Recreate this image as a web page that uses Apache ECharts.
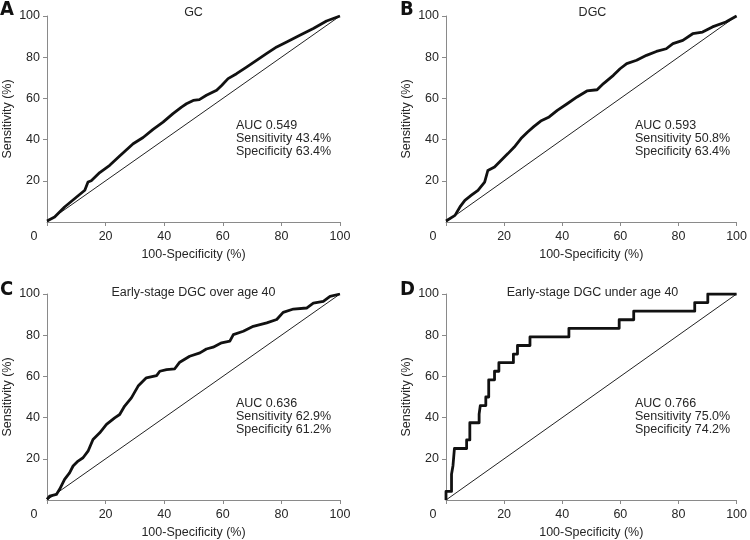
<!DOCTYPE html>
<html>
<head>
<meta charset="utf-8">
<script src="https://cdn.jsdelivr.net/npm/echarts@6/dist/echarts.min.js"></script>
<style>
html,body{margin:0;padding:0;background:#fff;}
#chart{width:750px;height:540px;}
</style>
</head>
<body>
<div id="chart"></div>
<script>
// ---- Data ----
var panelLetters = ['A', 'B', 'C', 'D'];
var panelTitles = ['GC', 'DGC', 'Early-stage DGC over age 40', 'Early-stage DGC under age 40'];
var statsA = ['AUC 0.549', 'Sensitivity 43.4%', 'Specificity 63.4%'];
var statsB = ['AUC 0.593', 'Sensitivity 50.8%', 'Specificity 63.4%'];
var statsC = ['AUC 0.636', 'Sensitivity 62.9%', 'Specificity 61.2%'];
var statsD = ['AUC 0.766', 'Sensitivity 75.0%', 'Specificity 74.2%'];
var axisTicks = [0, 20, 40, 60, 80, 100];
var xName = '100-Specificity (%)';
var yName = 'Sensitivity (%)';

var diagX = [0, 100];
var diagY = [0, 100];

var fprA = [0, 2.6, 6, 10, 12.9, 14, 15.1, 18, 21.4, 24.8, 29.4, 32.8, 36.2, 39.6, 43, 45.9, 47.6, 49.9, 52, 54.4, 57.9, 59.6, 61.8, 64.7, 68.1, 71.5, 74.9, 78.4, 81.8, 86.3, 90.9, 95.4, 100];
var tprA = [0.5, 2.4, 7.3, 12, 15.4, 19.4, 20, 24, 27.5, 32, 38, 41, 45, 48.5, 52.6, 55.8, 57.4, 59, 59.4, 61.5, 64, 66.3, 69.6, 72, 75.2, 78.5, 81.7, 85, 87.4, 90.6, 93.9, 97.6, 100];

var fprB = [0, 3.1, 4.8, 6.5, 8.75, 11, 13.3, 14.4, 16.7, 19, 21.3, 23.5, 25.8, 28.1, 30.3, 32.6, 35.5, 38.3, 41.7, 45.1, 48.5, 52, 54.2, 57.6, 59.9, 62.2, 65.6, 69, 72.4, 75.8, 78.1, 81.5, 84.9, 88.3, 91.7, 96.3, 100];
var tprB = [0.5, 3.2, 7.3, 10.5, 13, 15.4, 19.4, 25, 26.7, 30, 33.2, 36.4, 40.5, 43.7, 46.4, 49, 51, 54.2, 57.4, 60.7, 63.6, 64.2, 67.2, 71.2, 74.4, 76.9, 78.5, 80.9, 82.8, 84.1, 86.6, 88.2, 91.4, 92.2, 94.7, 97.1, 100];

var fprC = [0, 0.9, 3.2, 4.3, 6, 7.7, 8.9, 10.6, 12.3, 14, 15.7, 18, 20.3, 23.1, 24.8, 26.5, 28.8, 31.1, 33.9, 37.4, 38.5, 40.8, 43.6, 45.3, 48.7, 52.2, 54.4, 56.7, 59.6, 62.4, 63.6, 67, 70.4, 75, 78.4, 80.6, 84.1, 88.6, 90.9, 94.3, 96.6, 100];
var tprC = [0.3, 1.9, 2.7, 5.2, 10, 13.2, 16.5, 18.9, 20.5, 23.7, 29.4, 32.6, 36.7, 39.9, 41.5, 45.6, 49.6, 55.3, 59.3, 60.4, 62.5, 63.3, 63.7, 66.9, 69.8, 71.4, 73.3, 74.2, 76.3, 77.1, 80.3, 81.9, 84.3, 86, 87.6, 91.1, 92.7, 93.2, 95.6, 96.4, 98.9, 100];

var fprD = [0, 0, 1.9, 1.9, 2.4, 2.4, 2.9, 2.9, 7.1, 7.1, 8.2, 8.2, 11.4, 11.4, 11.8, 11.8, 13.7, 13.7, 14.7, 14.7, 16.7, 16.7, 18.2, 18.2, 23.2, 23.2, 24.6, 24.6, 28.9, 28.9, 42.3, 42.3, 59.6, 59.6, 64.6, 64.6, 85.6, 85.6, 90.1, 90.1, 100];
var tprD = [0, 4.17, 4.17, 12.5, 12.5, 16.67, 16.67, 25, 25, 29.17, 29.17, 37.5, 37.5, 41.67, 41.67, 45.83, 45.83, 50, 50, 58.33, 58.33, 62.5, 62.5, 66.67, 66.67, 70.83, 70.83, 75, 75, 79.17, 79.17, 83.33, 83.33, 87.5, 87.5, 91.67, 91.67, 95.83, 95.83, 100, 100];

// ---- Build chart ----
function pairs(xs, ys) { return xs.map(function (x, i) { return [x, ys[i]]; }); }

var FONT = "'Liberation Sans', Arial, sans-serif";
var TXT = '#262626';
var AX = '#8a8a8a';

var grids = [
  { left: 47, top: 16, width: 293, height: 206 },
  { left: 446, top: 16, width: 293, height: 206 },
  { left: 47, top: 294, width: 293, height: 206.5 },
  { left: 446, top: 294, width: 293, height: 206.5 }
];
var curves = [pairs(fprA, tprA), pairs(fprB, tprB), pairs(fprC, tprC), pairs(fprD, tprD)];
var stats = [statsA, statsB, statsC, statsD];

var xAxes = [], yAxes = [], series = [], graphics = [];
grids.forEach(function (g, i) {
  xAxes.push({
    type: 'value', gridIndex: i, min: axisTicks[0], max: axisTicks[axisTicks.length - 1], interval: 20,
    name: xName, nameLocation: 'middle', nameGap: 26,
    nameTextStyle: { fontFamily: FONT, fontSize: 12.5, color: TXT },
    axisLine: { show: true, lineStyle: { color: AX, width: 1 } },
    axisTick: { show: true, length: 4, lineStyle: { color: AX } },
    axisLabel: {
      margin: 8, fontFamily: FONT, fontSize: 12.5, color: TXT, showMinLabel: true,
      formatter: function (v) { return v === 0 ? '{z|0}' : String(v); },
      rich: { z: { fontFamily: FONT, fontSize: 12.5, color: TXT, padding: [0, 26, 0, 0] } }
    },
    splitLine: { show: false }
  });
  yAxes.push({
    type: 'value', gridIndex: i, min: axisTicks[0], max: axisTicks[axisTicks.length - 1], interval: 20,
    name: yName, nameLocation: 'middle', nameGap: 33, nameRotate: 90,
    nameTextStyle: { fontFamily: FONT, fontSize: 12.5, color: TXT },
    axisLine: { show: true, lineStyle: { color: AX, width: 1 } },
    axisTick: { show: true, length: 4, lineStyle: { color: AX } },
    axisLabel: { margin: 7, fontFamily: FONT, fontSize: 12.5, color: TXT, showMinLabel: false },
    splitLine: { show: false }
  });
  series.push({
    type: 'line', xAxisIndex: i, yAxisIndex: i, data: pairs(diagX, diagY),
    showSymbol: false, silent: true, animation: false,
    lineStyle: { color: '#222', width: 1 }
  });
  series.push({
    type: 'line', xAxisIndex: i, yAxisIndex: i, data: curves[i],
    showSymbol: false, silent: true, animation: false,
    lineStyle: { color: '#111', width: 2.8, join: 'round' }
  });
  var top = g.top;
  var cx = g.left + g.width / 2;
  graphics.push({
    type: 'text', x: cx, y: (i < 2 ? 13 : 292.5),
    style: { text: panelTitles[i], font: '12.5px ' + FONT, fill: TXT, textAlign: 'center', textVerticalAlign: 'middle' }
  });
  graphics.push({
    type: 'text', x: (i % 2 === 0 ? 0 : 400), y: (i < 2 ? 10 : 289.5),
    style: { text: panelLetters[i], font: "bold 20px 'Liberation Sans Narrow', 'DejaVu Sans Condensed', Arial, sans-serif", fill: '#111', textAlign: 'left', textVerticalAlign: 'middle' }
  });
  graphics.push({
    type: 'text', x: g.left + g.width * 0.645, y: top + 102.5,
    style: { text: stats[i].join('\n'), font: '12.5px ' + FONT, fill: TXT, lineHeight: 13.3, textAlign: 'left', textVerticalAlign: 'top' }
  });
});

var chart = echarts.init(document.getElementById('chart'), null, { renderer: 'canvas' });
chart.setOption({
  animation: false,
  backgroundColor: '#fff',
  grid: grids,
  xAxis: xAxes,
  yAxis: yAxes,
  series: series,
  graphic: graphics
});
</script>
</body>
</html>
